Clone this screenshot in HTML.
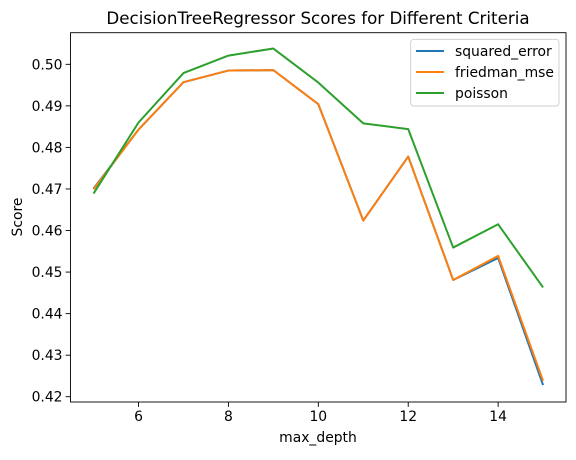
<!DOCTYPE html>
<html><head><meta charset="utf-8"><style>
body{margin:0;background:#fff;}
svg text{font-family:"DejaVu Sans","Liberation Sans",sans-serif;fill:#000;}
</style></head><body>
<svg id="chart" width="576" height="455" xmlns="http://www.w3.org/2000/svg">
<rect width="576" height="455" fill="#fff"/>
<text x="318" y="24" font-size="16.7" text-anchor="middle">DecisionTreeRegressor Scores for Different Criteria</text>
<g id="plot"></g>
<rect x="70.5" y="32.7" width="495.5" height="369.3" fill="none" stroke="#000" stroke-width="0.9"/>
<text x="318" y="442" font-size="13.9" text-anchor="middle">max_depth</text>
<text transform="translate(22,217) rotate(-90)" font-size="13.9" text-anchor="middle">Score</text>
<g>
<rect x="410.7" y="39.3" width="148.3" height="66.7" rx="3" fill="#fff" fill-opacity="0.8" stroke="#ccc" stroke-width="0.9"/>
<line x1="416" y1="51" x2="444" y2="51" stroke="#1f77b4" stroke-width="2"/>
<text x="455" y="56" font-size="13.9">squared_error</text>
<line x1="416" y1="72" x2="444" y2="72" stroke="#ff7f0e" stroke-width="2"/>
<text x="455" y="77" font-size="13.9">friedman_mse</text>
<line x1="416" y1="93" x2="444" y2="93" stroke="#2ca02c" stroke-width="2"/>
<text x="455" y="98" font-size="13.9">poisson</text>
</g>
</svg>
<script>
const depths=[5,6,7,8,9,10,11,12,13,14,15];
const squaredError=[0.4701,0.4843,0.4957,0.4985,0.4986,0.4904,0.4624,0.4778,0.4481,0.4534,0.4228];
const friedmanMse=[0.4699,0.4843,0.4957,0.4985,0.4986,0.4904,0.4624,0.4778,0.4481,0.4539,0.4238];
const poisson=[0.4689,0.4860,0.4979,0.5021,0.5038,0.4956,0.4858,0.4844,0.4559,0.4615,0.4463];
const xTicks=[6,8,10,12,14];
const yTicks=[0.42,0.43,0.44,0.45,0.46,0.47,0.48,0.49,0.50];
const yTickLabels=["0.42","0.43","0.44","0.45","0.46","0.47","0.48","0.49","0.50"];
const X0=70.5,X1=566,Y0=402,Y1=32.7,xMin=4.487,xMax=15.51,yMin=0.41873,yMax=0.50761;
const sx=v=>X0+(v-xMin)/(xMax-xMin)*(X1-X0);
const sy=v=>Y0-(v-yMin)/(yMax-yMin)*(Y0-Y1);
const NS="http://www.w3.org/2000/svg";
const g=document.getElementById('plot');
function mk(t,a){const e=document.createElementNS(NS,t);for(const k in a)e.setAttribute(k,a[k]);g.appendChild(e);return e;}
xTicks.forEach(v=>{
  const l=mk('line',{x1:sx(v),x2:sx(v),y1:Y0,y2:Y0+4.9,stroke:'#000','stroke-width':0.9});
  
  
  const t=mk('text',{x:sx(v),y:Y0+19,'font-size':13.9,'text-anchor':'middle'});
  t.textContent=v;
  
  
});
yTicks.forEach((v,i)=>{
  const l=mk('line',{x1:X0-4.9,x2:X0,y1:sy(v),y2:sy(v),stroke:'#000','stroke-width':0.9});
  
  
  const t=mk('text',{x:X0-8,y:sy(v)+5,'font-size':13.9,'text-anchor':'end'});
  t.textContent=yTickLabels[i];
  
  
});
[[squaredError,'#1f77b4','line-squared-error'],[friedmanMse,'#ff7f0e','line-friedman-mse'],[poisson,'#2ca02c','line-poisson']].forEach(([s,c,n])=>{
  const p=mk('polyline',{points:depths.map((d,i)=>sx(d)+','+sy(s[i])).join(' '),fill:'none',stroke:c,'stroke-width':2,'stroke-linejoin':'round'});
  
  
});
</script>
</body></html>
